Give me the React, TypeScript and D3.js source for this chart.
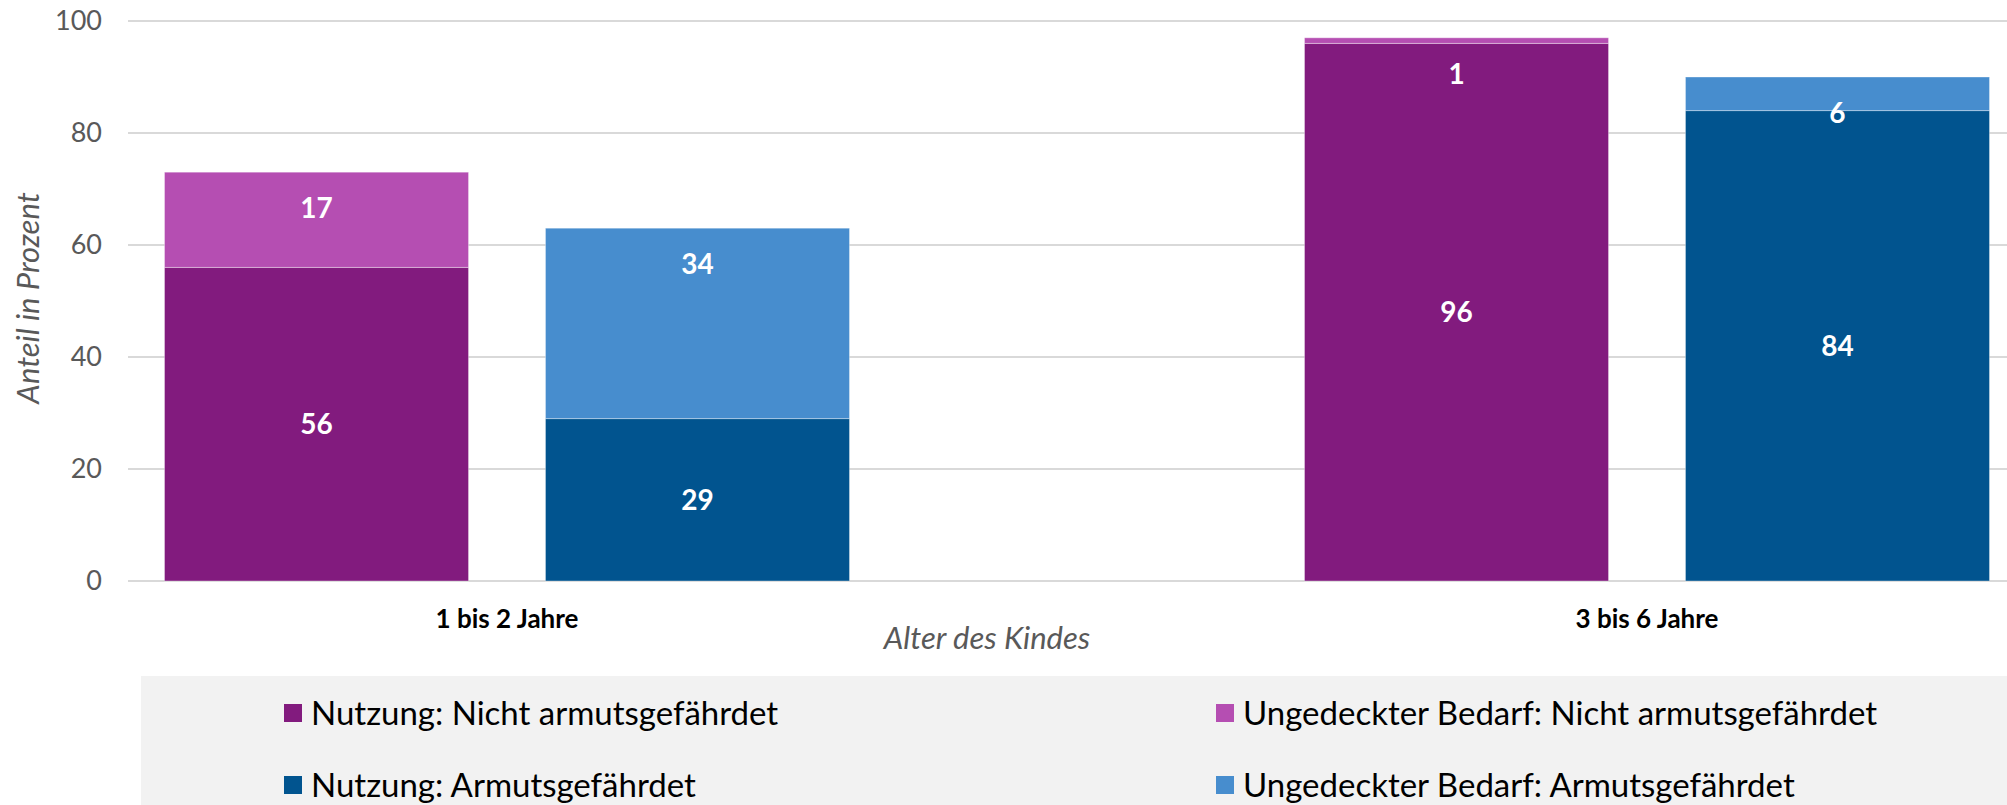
import React from 'react';
import * as d3 from 'd3';

// Alter des Kindes
const categories = ['1 bis 2 Jahre', '3 bis 6 Jahre'];
// Anteil in Prozent
const nutzungNicht = [56, 96];
const bedarfNicht = [17, 1];
const nutzungArm = [29, 84];
const bedarfArm = [34, 6];
const yTicks = [0, 20, 40, 60, 80, 100];

const groups = [
  { key: 'nicht', values: [nutzungNicht, bedarfNicht], colors: ['#821B7E', '#B54EB2'] },
  { key: 'arm', values: [nutzungArm, bedarfArm], colors: ['#01548F', '#478DCE'] },
];

const legendItems = [
  { label: 'Nutzung: Nicht armutsgefährdet', color: '#821B7E' },
  { label: 'Ungedeckter Bedarf: Nicht armutsgefährdet', color: '#B54EB2' },
  { label: 'Nutzung: Armutsgefährdet', color: '#01548F' },
  { label: 'Ungedeckter Bedarf: Armutsgefährdet', color: '#478DCE' },
];

const W = 2007;
const H = 805;
const font = 'Lato, "Open Sans", sans-serif';

export default function App() {
  const y = d3.scaleLinear().domain([0, 100]).range([581, 21]);
  const x = d3.scalePoint<string>().domain(categories).range([507, 1647]);
  const inner = d3
    .scaleBand<string>()
    .domain(groups.map((g) => g.key))
    .range([-342.5, 342.5])
    .paddingInner(0.202);

  const bars: React.ReactNode[] = [];
  const labels: React.ReactNode[] = [];
  categories.forEach((cat, ci) => {
    groups.forEach((g) => {
      const rows = [{ a: g.values[0][ci], b: g.values[1][ci] }];
      const stack = d3.stack<{ a: number; b: number }>().keys(['a', 'b'])(rows);
      const bx = (x(cat) as number) + (inner(g.key) as number);
      const bw = inner.bandwidth();
      const total = stack[1][0][1];
      stack.forEach((layer, li) => {
        const [y0, y1] = layer[0];
        bars.push(
          <rect
            key={`${cat}-${g.key}-${li}`}
            x={bx}
            y={y(y1)}
            width={bw}
            height={y(y0) - y(y1)}
            fill={g.colors[li]}
            stroke="#ffffff"
            strokeOpacity={0.35}
            strokeWidth={1}
          />
        );
        // top segment labels sit a fixed distance below the bar top
        const ly = li === 0 ? (y(y0) + y(y1)) / 2 : y(total) + 36;
        labels.push(
          <text
            key={`l-${cat}-${g.key}-${li}`}
            x={bx + bw / 2}
            y={ly}
            dy="0.35em"
            textAnchor="middle"
            fill="#ffffff"
            fontWeight={700}
            fontSize={28}
            fontFamily={font}
          >
            {y1 - y0}
          </text>
        );
      });
    });
  });

  return (
    <svg
      width={W}
      height={H}
      style={{ position: 'absolute', left: 0, top: 0, background: '#ffffff' }}
    >
      {yTicks.map((t) => (
        <g key={t}>
          <line x1={128} x2={W} y1={y(t)} y2={y(t)} stroke="#d9d9d9" strokeWidth={2} />
          <text
            x={102}
            y={y(t)}
            dy="0.35em"
            textAnchor="end"
            fill="#595959"
            fontSize={27}
            fontFamily={font}
          >
            {t}
          </text>
        </g>
      ))}
      {bars}
      {labels}
      {categories.map((c) => (
        <text
          key={c}
          x={x(c)}
          y={619}
          dy="0.35em"
          textAnchor="middle"
          fill="#000000"
          fontWeight={700}
          fontSize={26}
          fontFamily={font}
        >
          {c}
        </text>
      ))}
      <text
        x={987}
        y={638}
        dy="0.35em"
        textAnchor="middle"
        fill="#595959"
        fontStyle="italic"
        fontSize={31}
        fontFamily={font}
      >
        Alter des Kindes
      </text>
      <text
        transform="translate(28,298) rotate(-90)"
        dy="0.35em"
        textAnchor="middle"
        fill="#595959"
        fontStyle="italic"
        fontSize={31}
        fontFamily={font}
      >
        Anteil in Prozent
      </text>
      <rect x={141} y={676} width={W - 141} height={H - 676} fill="#f2f2f2" />
      {legendItems.map((item, i) => {
        const lx = i % 2 === 0 ? 284 : 1216;
        const ly = i < 2 ? 713 : 785;
        return (
          <g key={item.label}>
            <rect x={lx} y={ly - 9} width={18} height={18} fill={item.color} />
            <text
              x={lx + 27}
              y={ly}
              dy="0.35em"
              fill="#000000"
              fontSize={33}
              fontFamily={font}
            >
              {item.label}
            </text>
          </g>
        );
      })}
    </svg>
  );
}
